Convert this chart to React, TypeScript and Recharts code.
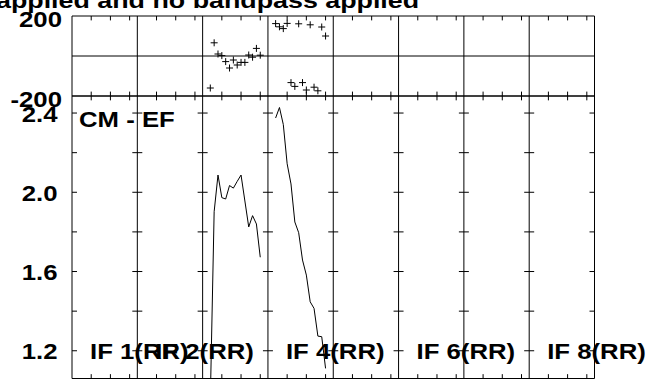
import { ScatterChart, Scatter, LineChart, Line, XAxis, YAxis, ReferenceLine, ReferenceDot } from "recharts";

// AIPS-style POSSM plot: phase (top) and amplitude (bottom), 8 IF panels side by side
const ifNames = ["IF 1(RR)", "IF 2(RR)", "IF 3(RR)", "IF 4(RR)", "IF 5(RR)", "IF 6(RR)", "IF 7(RR)", "IF 8(RR)"];
const labelledIfs = [1, 2, 4, 6, 8];
const channels = [2, 3, 4, 5, 6, 7, 8, 9, 10, 11, 12, 13, 14, 15];

const if3Phase = [-160, 66, 10, 2, -28, -60, -20, -45, -32, -32, 5, -6, 38, 4];
const if4Phase = [162, 146, 137, 163, -133, -152, 161, -133, -170, 156, -156, -174, 145, 100];
const if3Amp = [0.95, 1.902, 2.087, 1.973, 1.966, 2.034, 2.021, 2.055, 2.087, 1.956, 1.825, 1.882, 1.84, 1.672];
const if4Amp = [2.375, 2.428, 2.342, 2.144, 2.042, 1.85, 1.796, 1.658, 1.582, 1.447, 1.414, 1.274, 1.271, 1.111];

const phaseTicks = [-200, 200];
const PH_MIN = -200;
const PH_MAX = 200;
const ampTicks = [1.2, 1.4, 1.6, 1.8, 2.0, 2.2, 2.4];
const ampLabels = [1.2, 1.6, 2.0, 2.4];
const AMP_MIN = 1.06;
const AMP_MAX = 2.486;

const title = "applied and no bandpass applied";
const baselineName = "CM - EF";

const IF_WIDTH = 17; // channel slots per IF panel
const X_MAX = ifNames.length * IF_WIDTH;
const TICK_HALF = 1.3; // horizontal tick half length, channels
const PH_TICK = 22; // vertical tick length in the phase panel, degrees
const AMP_TICK = 0.022; // vertical tick length in the amplitude panel

const edges = ifNames.map((_, i) => i * IF_WIDTH).concat([X_MAX]);
const dividers = edges.slice(1, -1);
const minorTicks = ifNames.flatMap((_, i) => [5, 10, 15].map((c) => i * IF_WIDTH + c));
const labelTicks = labelledIfs.map((n) => (n - 1) * IF_WIDTH + 4.68);

const phasePts = (ifNo: number, vals: number[]) =>
  channels.map((c, i) => ({ x: (ifNo - 1) * IF_WIDTH + c, phase: vals[i] }));
const ampPts = (ifNo: number, vals: number[]) =>
  channels.map((c, i) => ({ x: (ifNo - 1) * IF_WIDTH + c, amp: vals[i] }));

const FONT = "'Liberation Sans', Arial, Helvetica, sans-serif";
const W = 647;
const H = 381;

function Stretch({ x, y, anchor = "start", sx = 1.17, children }: any) {
  return (
    <text
      transform={`translate(${x} ${y}) scale(${sx} 1)`}
      textAnchor={anchor}
      fontFamily={FONT}
      fontWeight="bold"
      fontSize={22}
      fill="#000"
    >
      {children}
    </text>
  );
}

const Plus = (p: any) => (
  <path d={`M${p.cx - 3.5},${p.cy}h7M${p.cx},${p.cy - 3.5}v7`} stroke="#000" strokeWidth={1} fill="none" />
);

// frame, dividers and tick marks drawn through the chart's own scales
function frame(yMin: number, yMax: number, tickLen: number, yTicks: number[]) {
  const out: any[] = [];
  [yMin, yMax].forEach((y) =>
    out.push(<ReferenceLine key={`h${y}`} xAxisId="x" yAxisId="y" y={y} stroke="#000" ifOverflow="extendDomain" />)
  );
  edges.forEach((e) =>
    out.push(<ReferenceLine key={`v${e}`} xAxisId="x" yAxisId="y" x={e} stroke="#000" />)
  );
  minorTicks.forEach((m) => {
    out.push(
      <ReferenceLine key={`t${m}`} xAxisId="x" yAxisId="y" stroke="#000"
        segment={[{ x: m, y: yMax }, { x: m, y: yMax - tickLen }]} />
    );
    out.push(
      <ReferenceLine key={`b${m}`} xAxisId="x" yAxisId="y" stroke="#000"
        segment={[{ x: m, y: yMin }, { x: m, y: yMin + tickLen }]} />
    );
  });
  edges.forEach((e) =>
    yTicks.forEach((t) =>
      out.push(
        <ReferenceLine key={`y${e}-${t}`} xAxisId="x" yAxisId="y" stroke="#000"
          segment={[{ x: Math.max(0, e - TICK_HALF), y: t }, { x: Math.min(X_MAX, e + TICK_HALF), y: t }]} />
      )
    )
  );
  return out;
}

export default function App() {
  return (
    <div style={{ position: "absolute", left: 0, top: 0, width: W, height: H, background: "#fff", overflow: "hidden" }}>
      <svg width={W} height={H} style={{ position: "absolute", left: 0, top: 0 }}>
        <Stretch x={-4} y={7.5} sx={1.22}>{title}</Stretch>
      </svg>

      {/* phase panel */}
      <div style={{ position: "absolute", left: 0, top: 0 }}>
        <ScatterChart width={W} height={130} margin={{ top: 16, right: 52.5, bottom: 34, left: 0 }}>
          <XAxis xAxisId="x" hide type="number" dataKey="x" domain={[0, X_MAX]} />
          <YAxis yAxisId="y" width={72} type="number" dataKey="phase" domain={[PH_MIN, PH_MAX]} ticks={phaseTicks}
            interval={0} tickLine={false} tickSize={0} tickMargin={10} axisLine={false}
            tick={(p: any) => <Stretch x={p.x} y={p.y + 11} anchor="end">{String(p.payload.value)}</Stretch>} />
          <ReferenceLine xAxisId="x" yAxisId="y" y={0} stroke="#000" />
          {frame(PH_MIN, PH_MAX, PH_TICK, [])}
          <Scatter xAxisId="x" yAxisId="y" data={phasePts(3, if3Phase)} shape={Plus} isAnimationActive={false} />
          <Scatter xAxisId="x" yAxisId="y" data={phasePts(4, if4Phase)} shape={Plus} isAnimationActive={false} />
        </ScatterChart>
      </div>

      {/* amplitude panel */}
      <div style={{ position: "absolute", left: 0, top: 0 }}>
        <LineChart width={W} height={H} margin={{ top: 96, right: 52.5, bottom: 2.5, left: 0 }}>
          <XAxis xAxisId="x" hide type="number" dataKey="x" domain={[0, X_MAX]} />
          <YAxis yAxisId="y" width={72} type="number" domain={[AMP_MIN, AMP_MAX]} allowDataOverflow ticks={ampTicks}
            interval={0} tickLine={false} tickSize={0} tickMargin={14.5} axisLine={false}
            tick={(p: any) =>
              ampLabels.includes(p.payload.value) ? (
                <Stretch x={p.x} y={p.y + 8.5} anchor="end">{Number(p.payload.value).toFixed(1)}</Stretch>
              ) : (
                <g />
              )
            } />
          {frame(AMP_MIN, AMP_MAX, AMP_TICK, ampTicks)}
          <ReferenceLine xAxisId="x" yAxisId="y" y={AMP_MAX} stroke="none"
            label={(p: any) => (
              <Stretch x={p.viewBox.x + 7} y={p.viewBox.y + 31}>{baselineName}</Stretch>
            )} />
          {labelTicks.map((lx, i) => (
            <ReferenceDot key={lx} xAxisId="x" yAxisId="y" x={lx} y={AMP_MIN} r={0} stroke="none" fill="none"
              label={(p: any) => (
                <Stretch x={p.viewBox.x} y={p.viewBox.y - 19.5}>{ifNames[labelledIfs[i] - 1]}</Stretch>
              )} />
          ))}
          <Line xAxisId="x" yAxisId="y" data={ampPts(3, if3Amp)} dataKey="amp" stroke="#000"
            strokeWidth={1} dot={false} isAnimationActive={false} />
          <Line xAxisId="x" yAxisId="y" data={ampPts(4, if4Amp)} dataKey="amp" stroke="#000"
            strokeWidth={1} dot={false} isAnimationActive={false} />
        </LineChart>
      </div>
    </div>
  );
}
